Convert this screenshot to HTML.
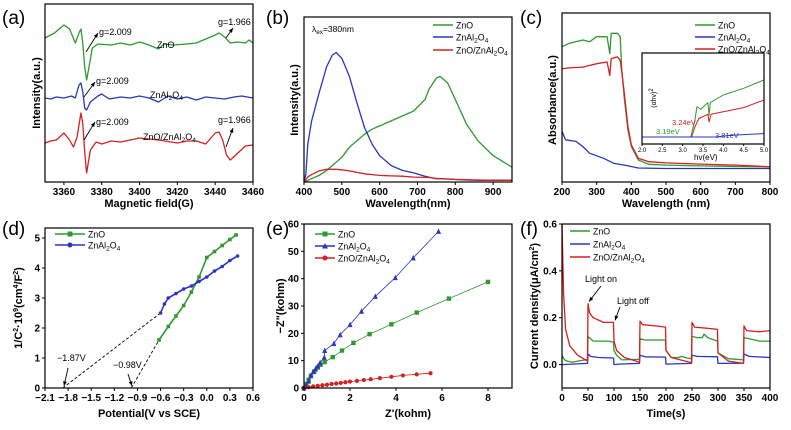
<!DOCTYPE html>
<html><head><meta charset="utf-8"><style>
html,body{margin:0;padding:0;background:#fff;}
svg{display:block;font-family:"Liberation Sans",Arial,sans-serif;}
</style></head><body>
<svg id="fig" width="791" height="430" viewBox="0 0 791 430"></svg>
<script>
// ---- data ----
// (a) EPR
const epr_field_g=[3350,3355,3360,3363,3366,3368,3369,3370,3371,3372,3373,3375,3378,3385,3390,3395,3400,3405,3410,3413,3418,3425,3430,3435,3440,3442,3445,3448,3452,3456,3458,3460];
const epr_zno=[144,149,157,153,139,149,153,139,115,102,112,134,138,137,139,137,140,137,133,138,137,138,139,143,147,149,145,139,140,139,142,139];
const epr_field_b=[3350,3353,3356,3360,3364,3366,3368,3369,3370,3371,3372,3374,3378,3380,3384,3390,3395,3400,3405,3410,3415,3420,3425,3430,3435,3440,3445,3450,3454,3460];
const epr_znal=[84,83,85,84,86,84,97,99,90,74,72,80,86,88,83,85,84,86,84,80,86,83,85,82,85,84,83,85,86,84];
const epr_field_r=[3350,3353,3356,3360,3363,3365,3367,3369,3370,3371,3372,3374,3377,3380,3385,3390,3395,3400,3410,3420,3425,3430,3435,3440,3442,3444,3446,3448,3452,3456,3460];
const epr_comp=[39,41,42,49,42,35,45,69,58,30,9,32,40,38,41,40,42,44,42,39,41,41,38,49,50,42,27,22,29,36,37];
// (b) PL
const pl_wl=[400,405,410,420,440,460,475,485,500,520,540,560,580,600,630,660,690,720,730,750,760,780,800,830,860,900,950];
const pl_zno=[0,0.005,0.01,0.02,0.04,0.07,0.1,0.12,0.15,0.21,0.25,0.29,0.32,0.34,0.37,0.4,0.43,0.5,0.56,0.63,0.64,0.6,0.5,0.35,0.25,0.16,0.09];
const pl_znal=[0,0.05,0.23,0.37,0.54,0.7,0.77,0.785,0.75,0.64,0.48,0.33,0.23,0.16,0.1,0.07,0.055,0.035,0.03,0.02,0.02,0.018,0.015,0.012,0.01,0.01,0.01];
const pl_comp=[0,0.015,0.03,0.045,0.067,0.077,0.077,0.077,0.074,0.067,0.058,0.05,0.045,0.04,0.037,0.035,0.03,0.028,0.027,0.022,0.02,0.018,0.016,0.014,0.012,0.01,0.01];
// (c) UV-vis
const uv_wl=[200,220,260,280,300,330,338,342,360,368,372,380,390,400,420,450,500,600,700,800];
const uv_zno=[0.8,0.82,0.84,0.83,0.86,0.86,0.76,0.88,0.88,0.86,0.68,0.49,0.31,0.21,0.13,0.105,0.1,0.095,0.092,0.09];
const uv_comp=[0.67,0.675,0.68,0.69,0.7,0.71,0.63,0.73,0.74,0.72,0.66,0.52,0.33,0.22,0.14,0.12,0.113,0.106,0.1,0.09];
const uv_wl_b=[200,210,240,260,280,320,350,380,420,500,600,700,800];
const uv_znal=[0.3,0.25,0.24,0.21,0.17,0.14,0.11,0.1,0.083,0.08,0.08,0.08,0.08];
// (c) inset Tauc
const tauc_e=[2.0,3.15,3.2,3.3,3.35,3.45,3.55,3.62,3.65,3.68,4.0,4.5,5.0];
const tauc_zno=[0,0,0,0.2,0.36,0.33,0.38,0.41,0.26,0.41,0.5,0.58,0.68];
const tauc_e_r=[2.0,3.15,3.22,3.3,3.4,3.62,3.65,3.7,4.0,4.5,5.0];
const tauc_comp=[0,0,0,0.12,0.22,0.27,0.18,0.27,0.3,0.35,0.44];
const tauc_e_b=[2.0,3.8,4.2,5.0];
const tauc_znal=[0,0,0.02,0.04];
// (d) Mott-Schottky
const ms_v_zno=[-0.62,-0.5,-0.4,-0.3,-0.2,-0.1,0,0.1,0.2,0.3,0.38];
const ms_zno=[1.6,2.05,2.4,2.75,3.2,3.7,4.35,4.55,4.75,4.95,5.1];
const ms_v_znal=[-0.6,-0.55,-0.5,-0.4,-0.3,-0.2,-0.1,0,0.1,0.2,0.3,0.4];
const ms_znal=[2.5,2.8,3.0,3.15,3.3,3.4,3.55,3.7,3.9,4.05,4.25,4.4];
const ms_flatband=[-1.87,-0.98];
// (e) Nyquist
const eis_zre_zno=[0,0.1,0.2,0.3,0.45,0.6,0.72,0.9,1.25,1.65,2.15,2.85,3.8,4.9,6.3,8.0];
const eis_zim_zno=[0,1.5,3,4.5,6,7.5,8.5,9.5,11.3,13.7,16.5,19.7,23.3,27.6,32.7,38.8];
const eis_zre_znal=[0,0.1,0.2,0.3,0.4,0.5,0.6,0.7,0.88,0.9,1.3,1.57,2.0,2.5,3.1,3.97,4.75,5.85];
const eis_zim_znal=[0,1,2.5,4.5,6,7,8,9.3,11.2,13.7,16.3,19.5,23.2,28.1,33.5,40.4,47.6,57.3];
const eis_zre_comp=[0,0.2,0.4,0.6,0.8,1.0,1.2,1.4,1.6,1.8,2.0,2.3,2.6,2.9,3.3,3.8,4.3,4.9,5.5];
const eis_zim_comp=[0,0.3,0.6,0.8,1.0,1.2,1.45,1.65,1.85,2.1,2.35,2.6,2.9,3.2,3.6,4.1,4.6,5.0,5.4];
// (f) photocurrent
const pc_t_zno=[0,5,10,20,30,45,49,50,55,60,70,90,99,100,105,115,140,149,150,160,180,199,200,210,225,230,240,249,250,260,270,273,280,299,300,320,349,350,360,380,400];
const pc_zno=[0.04,0.02,0.015,0.01,0.015,0.02,0.022,0.12,0.11,0.1,0.1,0.1,0.095,0.06,0.04,0.02,0.022,0.022,0.11,0.105,0.105,0.105,0.06,0.03,0.03,0.035,0.028,0.025,0.12,0.115,0.115,0.13,0.115,0.1,0.05,0.025,0.02,0.115,0.11,0.1,0.1];
const pc_t_comp=[0,3,7,15,30,49,50,53,60,80,99,100,105,120,149,150,155,180,199,200,210,249,250,255,280,299,300,320,349,350,355,380,400];
const pc_comp=[0.6,0.3,0.15,0.08,0.04,0.015,0.26,0.22,0.2,0.18,0.18,0.1,0.06,0.03,0.01,0.185,0.17,0.165,0.16,0.06,0.03,0.008,0.18,0.16,0.155,0.15,0.05,0.015,0.005,0.165,0.145,0.14,0.145];
const pc_t_znal=[0,49,50,55,70,99,100,110,149,150,160,199,200,249,250,260,299,300,349,350,360,400];
const pc_znal=[0,0.005,0.045,0.035,0.03,0.028,0,0.002,0.005,0.04,0.033,0.032,0.002,0.005,0.04,0.035,0.033,0.005,0.006,0.045,0.035,0.03];
// ticks
const ticks_a_x=[3360,3380,3400,3420,3440,3460];
const ticks_b_x=[400,500,600,700,800,900];
const ticks_c_x=[200,300,400,500,600,700,800];
const ticks_ci_x=[2.0,2.5,3.0,3.5,4.0,4.5,5.0];
const ticks_d_x=[-2.1,-1.8,-1.5,-1.2,-0.9,-0.6,-0.3,0.0,0.3,0.6];
const ticks_d_y=[0,1,2,3,4,5];
const ticks_e_x=[0,2,4,6,8];
const ticks_e_y=[0,10,20,30,40,50,60];
const ticks_f_x=[0,50,100,150,200,250,300,350,400];
const ticks_f_y=[0.0,0.2,0.4,0.6];

const G='#2e9a2e',B='#2a35c0',R='#d42020';
const NS='http://www.w3.org/2000/svg';
const svg=document.getElementById('fig');
function mk(tag,attrs,parent){const e=document.createElementNS(NS,tag);for(const k in attrs)e.setAttribute(k,attrs[k]);(parent||svg).appendChild(e);return e;}
function lin(d0,d1,r0,r1){return v=>r0+(v-d0)*(r1-r0)/(d1-d0);}
function txt(x,y,html,size,weight,anchor,fill,rot,parent){
  const t=mk('text',{x:x,y:y,'font-size':size,'font-weight':weight||'normal','text-anchor':anchor||'start',fill:fill||'#000'},parent);
  if(rot)t.setAttribute('transform','rotate(-90 '+x+' '+y+')');
  t.innerHTML=html;return t;}
const SUB=(s)=>'<tspan dy="2" font-size="0.75em">'+s+'</tspan><tspan dy="-2">\u200B</tspan>';
const ZNAL='ZnAl'+SUB('2')+'O'+SUB('4');
const COMP='ZnO/ZnAl'+SUB('2')+'O'+SUB('4');

function box(x0,y0,x1,y1,name){
  const r=mk('rect',{x:x0,y:y0,width:x1-x0,height:y1-y0,fill:'none',stroke:'#000','stroke-width':1.2});
  
  
}
function xticks(ticks,sx,y,fmt,name,size){
  const g=mk('g',{});
  
  
  ticks.forEach(v=>{const x=sx(v);mk('line',{x1:x,x2:x,y1:y,y2:y+3,stroke:'#000','stroke-width':1},g);
    txt(x,y+13,fmt(v),size||10,'bold','middle','#000',false,g);});
}
function yticks(ticks,sy,x,fmt,name){
  const g=mk('g',{});
  
  
  ticks.forEach(v=>{const y=sy(v);mk('line',{x1:x-3,x2:x,y1:y,y2:y,stroke:'#000','stroke-width':1},g);
    txt(x-5,y+3.5,fmt(v),10,'bold','end','#000',false,g);});
}
function path(xs,ys,sx,sy,color,name,w){
  const d=xs.map((v,i)=>(i?'L':'M')+sx(v).toFixed(1)+' '+sy(ys[i]).toFixed(1)).join('');
  const p=mk('path',{d:d,fill:'none',stroke:color,'stroke-width':w||1.3,'stroke-linejoin':'round'});
  
  
  return p;
}
function markers(xs,ys,sx,sy,color,shape,name,sz){
  const g=mk('g',{fill:color});
  
  
  xs.forEach((v,i)=>{const x=sx(v),y=sy(ys[i]),s=sz||2.5;
    if(shape==='sq')mk('rect',{x:x-s,y:y-s,width:2*s,height:2*s},g);
    else if(shape==='tri')mk('path',{d:'M'+x+' '+(y-s-0.5)+'L'+(x+s)+' '+(y+s)+'L'+(x-s)+' '+(y+s)+'Z'},g);
    else mk('circle',{cx:x,cy:y,r:s},g);});
}
function arrow(x1,y1,x2,y2,name){
  const g=mk('g',{});
  
  
  mk('line',{x1:x1,y1:y1,x2:x2,y2:y2,stroke:'#000','stroke-width':0.9},g);
  const a=Math.atan2(y2-y1,x2-x1),L=5;
  mk('path',{d:'M'+x2+' '+y2+'L'+(x2-L*Math.cos(a-0.4))+' '+(y2-L*Math.sin(a-0.4))+'L'+(x2-L*Math.cos(a+0.4))+' '+(y2-L*Math.sin(a+0.4))+'Z',fill:'#000'},g);
}
function legend(x,y,html,color,shape,name,len){
  const g=mk('g',{});
  
  
  mk('line',{x1:x,x2:x+(len||20),y1:y,y2:y,stroke:color,'stroke-width':1.4},g);
  if(shape){const cx=x+(len||20)/2;
    if(shape==='sq')mk('rect',{x:cx-2.5,y:y-2.5,width:5,height:5,fill:color},g);
    else if(shape==='tri')mk('path',{d:'M'+cx+' '+(y-3)+'L'+(cx+3)+' '+(y+2.5)+'L'+(cx-3)+' '+(y+2.5)+'Z',fill:color},g);
    else mk('circle',{cx:cx,cy:y,r:2.5,fill:color},g);}
  txt(x+(len||20)+3,y+3.5,html,8.8,'normal','start','#000',false,g);
}
function plabel(x,y,s,name){const t=txt(x,y,s,19,'normal','start','#000');
  
  }
function title(x,y,s,name,rot){const t=txt(x,y,s,11,'bold','middle','#000',rot);
  
  }
function note(x,y,s,name,color,size){const t=txt(x,y,s,size||9,'normal','start',color||'#000');
  
  }

// ===== (a) =====
{const sx=lin(3350,3460,45,253),sy=lin(0,178,182,4);
plabel(2,24,'(a)','panel-a-label');
path(epr_field_g,epr_zno,sx,sy,G,'epr-zno-curve');
path(epr_field_b,epr_znal,sx,sy,B,'epr-znal2o4-curve');
path(epr_field_r,epr_comp,sx,sy,R,'epr-composite-curve');
box(45,4,253,182,'panel-a-frame');
xticks(ticks_a_x,sx,182,v=>v,'panel-a-x-ticks');
title(149,207,'Magnetic field(G)','panel-a-x-title');
title(40,93,'Intensity(a.u.)','panel-a-y-title',true);
note(157,48,'ZnO','epr-zno-label');note(150,98,ZNAL,'epr-znal2o4-label');note(143,140,COMP,'epr-composite-label');
note(99,35,'g=2.009','g-2009-label-zno');note(218,25,'g=1.966','g-1966-label-zno');
note(96,84,'g=2.009','g-2009-label-znal');note(96,125,'g=2.009','g-2009-label-comp');note(218,123,'g=1.966','g-1966-label-comp');
arrow(86,52,98,33,'arrow-g-zno');arrow(226,38,233,28,'arrow-g1966-zno');
arrow(84,97,95,82,'arrow-g-znal');arrow(84,140,95,122,'arrow-g-comp');arrow(226,147,233,128,'arrow-g1966-comp');}

// ===== (b) =====
{const sx=lin(400,950,304,512),sy=lin(0,1,182,17);
plabel(266,24,'(b)','panel-b-label');
path(pl_wl,pl_zno,sx,sy,G,'pl-zno-curve');
path(pl_wl,pl_znal,sx,sy,B,'pl-znal2o4-curve');
path(pl_wl,pl_comp,sx,sy,R,'pl-composite-curve');
box(304,17,512,182,'panel-b-frame');
xticks(ticks_b_x,sx,182,v=>v,'panel-b-x-ticks');
title(408,207,'Wavelength(nm)','panel-b-x-title');
title(298,100,'Intensity(a.u.)','panel-b-y-title',true);
note(312,32,'λ'+SUB('ex')+'=380nm','excitation-label','#000',8.5);
legend(433,25,'ZnO',G,null,'legend-b-zno');legend(433,37,ZNAL,B,null,'legend-b-znal2o4');legend(433,50,COMP,R,null,'legend-b-composite');}

// ===== (c) =====
{const sx=lin(200,800,562,770),sy=lin(0,1,182,13);
plabel(520,24,'(c)','panel-c-label');
path(uv_wl,uv_zno,sx,sy,G,'uv-zno-curve');
path(uv_wl,uv_comp,sx,sy,R,'uv-composite-curve');
path(uv_wl_b,uv_znal,sx,sy,B,'uv-znal2o4-curve');
box(562,13,770,182,'panel-c-frame');
xticks(ticks_c_x,sx,182,v=>v,'panel-c-x-ticks');
title(666,207,'Wavelength (nm)','panel-c-x-title');
title(556,100,'Absorbance(a.u.)','panel-c-y-title',true);
legend(695,25,'ZnO',G,null,'legend-c-zno');legend(695,37,ZNAL,B,null,'legend-c-znal2o4');legend(695,49,COMP,R,null,'legend-c-composite');
// inset
const ix=lin(2,5,642,764),iy=lin(0,1,137,53);
mk('rect',{x:642,y:53,width:122,height:91,fill:'#fff'});
path(tauc_e,tauc_zno,ix,iy,G,'tauc-zno-curve',1);
path(tauc_e_r,tauc_comp,ix,iy,R,'tauc-composite-curve',1);
path(tauc_e_b,tauc_znal,ix,iy,B,'tauc-znal2o4-curve',1);
box(642,53,764,144,'inset-frame');
const g=mk('g',{});


ticks_ci_x.forEach(v=>{mk('line',{x1:ix(v),x2:ix(v),y1:144,y2:146,stroke:'#000'},g);txt(ix(v),152,v.toFixed(1),6,'normal','middle','#000',false,g);});
note(694,160,'hv(eV)','inset-x-title','#000',8);
const it=txt(656,98,'(αhv)<tspan dy="-3" font-size="6">2</tspan>',7,'normal','middle','#000',true);


note(672,125,'3.24eV','gap-composite-label',R,7.5);note(656,134,'3.19eV','gap-zno-label',G,7.5);note(715,138,'3.81eV','gap-znal2o4-label',B,7.5);}

// ===== (d) =====
{const sx=lin(-2.1,0.6,45,253),sy=lin(0,5,388,238);
plabel(2,235,'(d)','panel-d-label');
const dl=mk('g',{stroke:'#000','stroke-dasharray':'3,2','stroke-width':0.9});


mk('line',{x1:sx(ms_flatband[0]),y1:sy(0),x2:sx(ms_v_znal[0]),y2:sy(ms_znal[0])},dl);
mk('line',{x1:sx(ms_flatband[1]),y1:sy(0),x2:sx(ms_v_zno[0]),y2:sy(ms_zno[0])},dl);
path(ms_v_zno,ms_zno,sx,sy,G,'ms-zno-curve',1.6);markers(ms_v_zno,ms_zno,sx,sy,G,'sq','ms-zno-markers',1.8);
path(ms_v_znal,ms_znal,sx,sy,B,'ms-znal2o4-curve',1.6);markers(ms_v_znal,ms_znal,sx,sy,B,'circ','ms-znal2o4-markers',1.8);
box(45,228,253,388,'panel-d-frame');
xticks(ticks_d_x,sx,388,v=>(v<0?'−':'')+Math.abs(v).toFixed(1),'panel-d-x-ticks');
yticks(ticks_d_y,sy,45,v=>v,'panel-d-y-ticks');
title(149,417,'Potential(V vs SCE)','panel-d-x-title');
title(22,308,'1/C<tspan dy="-4" font-size="7">2</tspan><tspan dy="4">·10</tspan><tspan dy="-4" font-size="7">9</tspan><tspan dy="4">(cm</tspan><tspan dy="-4" font-size="7">4</tspan><tspan dy="4">/F</tspan><tspan dy="-4" font-size="7">2</tspan><tspan dy="4">)</tspan>','panel-d-y-title',true);
legend(55,234,'ZnO',G,'sq','legend-d-zno',30);legend(55,245,ZNAL,B,'circ','legend-d-znal2o4',30);
note(57,361,'−1.87V','flatband-znal2o4-label');note(113,368,'−0.98V','flatband-zno-label');
arrow(68,368,64,386,'arrow-flatband-znal2o4');arrow(128,374,132,386,'arrow-flatband-zno');}

// ===== (e) =====
{const sx=lin(0,9,304,511),sy=lin(0,60,388,224);
plabel(266,235,'(e)','panel-e-label');
path(eis_zre_zno,eis_zim_zno,sx,sy,G,'eis-zno-curve',0.8);markers(eis_zre_zno,eis_zim_zno,sx,sy,G,'sq','eis-zno-markers',2.2);
path(eis_zre_znal,eis_zim_znal,sx,sy,B,'eis-znal2o4-curve',0.8);markers(eis_zre_znal,eis_zim_znal,sx,sy,B,'tri','eis-znal2o4-markers',2.5);
path(eis_zre_comp,eis_zim_comp,sx,sy,R,'eis-composite-curve',0.8);markers(eis_zre_comp,eis_zim_comp,sx,sy,R,'circ','eis-composite-markers',2.1);
box(304,224,512,388,'panel-e-frame');
xticks(ticks_e_x,sx,388,v=>v,'panel-e-x-ticks');
yticks(ticks_e_y,sy,304,v=>v,'panel-e-y-ticks');
title(408,417,"Z'(kohm)",'panel-e-x-title');
title(284,306,'−Z"(kohm)','panel-e-y-title',true);
legend(315,234,'ZnO',G,'sq','legend-e-zno');legend(315,246,ZNAL,B,'tri','legend-e-znal2o4');legend(315,258,COMP,R,'circ','legend-e-composite');}

// ===== (f) =====
{const sx=lin(0,400,562,770),sy=lin(-0.1,0.6,388,224);
plabel(520,235,'(f)','panel-f-label');
path(pc_t_zno,pc_zno,sx,sy,G,'pc-zno-curve');
path(pc_t_znal,pc_znal,sx,sy,B,'pc-znal2o4-curve');
path(pc_t_comp,pc_comp,sx,sy,R,'pc-composite-curve');
box(562,224,770,388,'panel-f-frame');
xticks(ticks_f_x,sx,388,v=>v,'panel-f-x-ticks');
yticks(ticks_f_y,sy,562,v=>v.toFixed(1),'panel-f-y-ticks');
title(666,417,'Time(s)','panel-f-x-title');
title(538,306,'Current density(μA/cm<tspan dy="-4" font-size="7">2</tspan><tspan dy="4">)</tspan>','panel-f-y-title',true);
legend(570,231,'ZnO',G,null,'legend-f-zno');legend(570,244,ZNAL,B,null,'legend-f-znal2o4');legend(570,257,COMP,R,null,'legend-f-composite');
note(585,282,'Light on','light-on-label');note(617,304,'Light off','light-off-label');
arrow(601,286,sx(50)+1,sy(0.26)-2,'arrow-light-on');arrow(620,307,sx(100)+1,sy(0.18)-2,'arrow-light-off');}
</script>
</body></html>
